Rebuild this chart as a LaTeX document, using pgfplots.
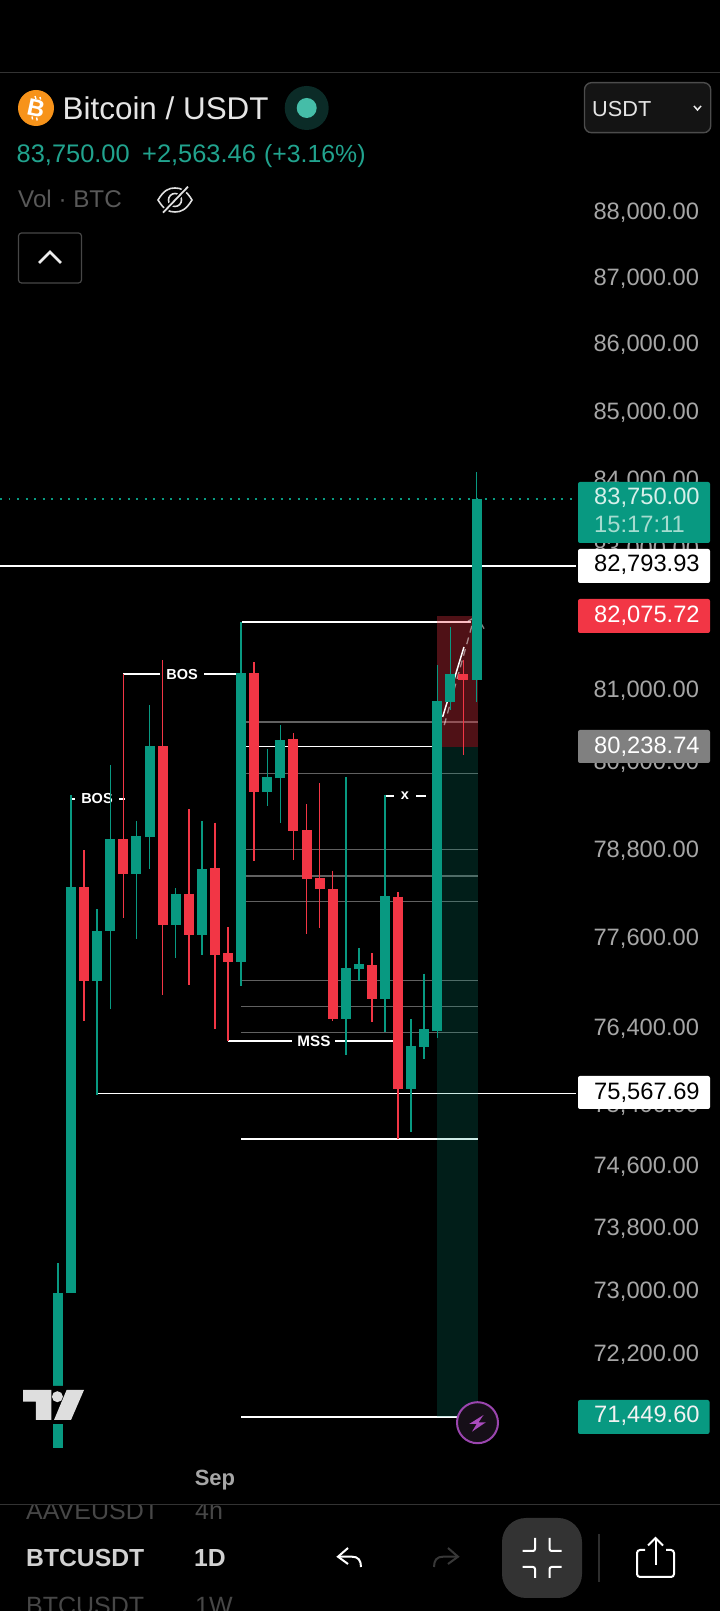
\documentclass[border=0pt]{standalone}
\usepackage{pgfplots}
\pgfplotsset{compat=1.18}
\usepackage{fontspec}
\setmainfont{Liberation Sans}
\definecolor{tvg}{HTML}{089981}
\definecolor{tvr}{HTML}{F23645}
\definecolor{tick}{HTML}{A6A6A6}
\newcommand{\fs}[1]{\fontsize{#1}{#1}\selectfont}
% candle: index, open, high, low, close
\newcommand{\gc}[5]{%
 \addplot[tvg,line width=.3pt,line cap=butt] coordinates {(#1,#3) (#1,#4)};
 \addplot[tvg,line width=2pt,line cap=butt] coordinates {(#1,#2) (#1,#5)};}
\newcommand{\rc}[5]{%
 \addplot[tvr,line width=.3pt,line cap=butt] coordinates {(#1,#3) (#1,#4)};
 \addplot[tvr,line width=2pt,line cap=butt] coordinates {(#1,#2) (#1,#5)};}
\begin{document}
\begin{tikzpicture}
\useasboundingbox (0,0) rectangle (720pt,1611pt);
\fill[black] (0,0) rectangle (720pt,1611pt);
\begin{scope}[transform canvas={scale=5}]
\begin{axis}[
  at={(0pt,-0.3pt)},anchor=south west,scale only axis,width=144pt,height=322.2pt,
  xmin=-4.434,xmax=50.612,ymode=log,ymin=69075,ymax=91305,
  axis line style={draw=none},tick style={draw=none},major tick length=0pt,
  ytick pos=right,yticklabel pos=right,
  ytick={88000,87000,86000,85000,84000,83000,81000,80000,78800,77600,76400,75400,74600,73800,73000,72200},
  yticklabels={88{,}000.00,87{,}000.00,86{,}000.00,85{,}000.00,84{,}000.00,83{,}000.00,81{,}000.00,80{,}000.00,78{,}800.00,77{,}600.00,76{,}400.00,75{,}400.00,74{,}600.00,73{,}800.00,73{,}000.00,72{,}200.00},
  yticklabel style={anchor=base east,xshift=-4pt,yshift=-1.1pt,inner sep=0pt,text=tick,font=\fs{4.74}},
  xtick={12},xticklabels={\textbf{Sep}},
  xticklabel style={anchor=center,inner sep=0pt,yshift=26.36pt,text=tick,font=\fs{4.4}},
  clip=true,
]
% horizontal levels
\addplot[white,line width=.34pt] coordinates {(-4.434,82793.93) (39.6,82793.93)};
\addplot[white,line width=.34pt] coordinates {(3,75567.69) (39.6,75567.69)};
\addplot[white,line width=.34pt] coordinates {(14,80238.74) (29,80238.74)};
\addplot[white,line width=.34pt] coordinates {(14.07,81985) (31.57,81985)};
\addplot[white,line width=.34pt] coordinates {(14,74966) (32.1,74966)};
\addplot[white,line width=.34pt] coordinates {(14,71449.6) (32.07,71449.6)};
\addplot[tvg,line width=.36pt,dash pattern=on .4pt off 1.3pt] coordinates {(-4.434,83750) (39.3,83750)};
% grey levels
\addplot[white,opacity=.38,line width=.27pt] coordinates {(14,80578) (32.1,80578)};
\addplot[white,opacity=.38,line width=.27pt] coordinates {(14,79883) (32.1,79883)};
\addplot[white,opacity=.38,line width=.27pt] coordinates {(14,78822) (32.1,78822)};
\addplot[white,opacity=.38,line width=.27pt] coordinates {(14,78472) (32.1,78472)};
\addplot[white,opacity=.38,line width=.27pt] coordinates {(14,78120) (32.1,78120)};
\addplot[white,opacity=.38,line width=.27pt] coordinates {(14,77059) (32.1,77059)};
\addplot[white,opacity=.38,line width=.27pt] coordinates {(14,76713) (32.1,76713)};
\addplot[white,opacity=.38,line width=.27pt] coordinates {(14,76368) (32.1,76368)};
% position zones
\addplot[draw=none,fill=tvr,fill opacity=.33] coordinates {(28.98,82075.72) (32.11,82075.72) (32.11,80238.74) (28.98,80238.74)} --cycle;
\addplot[draw=none,fill=tvg,fill opacity=.2] coordinates {(28.98,80238.74) (32.11,80238.74) (32.11,71449.6) (28.98,71449.6)} --cycle;
% structure labels
\addplot[white,line width=.34pt] coordinates {(1,79526) (5.12,79526)};
\node[fill=black,text=white,font=\fs{2.9}\bfseries,inner xsep=1.2pt,inner ysep=.2pt] at (axis cs:2.98,79526) {BOS};
\addplot[white,line width=.34pt] coordinates {(5,81250) (14,81250)};
\node[fill=black,text=white,font=\fs{2.9}\bfseries,inner xsep=1.3pt,inner ysep=.2pt] at (axis cs:9.48,81250) {BOS};
\addplot[white,line width=.34pt] coordinates {(13,76261) (26,76261)};
\node[fill=black,text=white,font=\fs{3.05}\bfseries,inner xsep=1pt,inner ysep=.2pt] at (axis cs:19.57,76261) {MSS};
\addplot[white,line width=.34pt] coordinates {(25,79571) (28.1,79571)};
\node[fill=black,text=white,font=\fs{2.9}\bfseries,inner xsep=1.3pt,inner ysep=.2pt] at (axis cs:26.53,79571) {x};
% projected path
\addplot[white,line width=.3pt] coordinates {(29.41,80652) (31.04,81635)};
\addplot[white,opacity=.5,line width=.26pt,dash pattern=on 1.4pt off 1pt] coordinates {(29.53,80536) (31.65,81942)};
\addplot[white,opacity=.5,line width=.26pt] coordinates {(31.35,82000) (32.03,82071) (32.57,81895)};
% candles
\gc{0}{71063}{73375}{71063}{73000}
\gc{1}{73000}{79567}{72995}{78323}
\rc{2}{78323}{78813}{76514}{77059}
\gc{3}{77059}{78026}{75554}{77728}
\gc{4}{77715}{79994}{76687}{78975}
\rc{5}{78975}{81250}{77890}{78499}
\gc{6}{78499}{79223}{77620}{79016}
\gc{7}{79003}{80816}{78566}{80243}
\rc{8}{80243}{81448}{76873}{77809}
\gc{9}{77809}{78310}{77364}{78228}
\rc{10}{78228}{79388}{76992}{77674}
\gc{11}{77674}{79223}{77404}{78566}
\rc{12}{78580}{79195}{76421}{77404}
\rc{13}{77417}{77782}{76261}{77311}
\gc{14}{77311}{81985}{76979}{81264}
\rc{15}{81264}{81418}{78675}{79622}
\gc{16}{79622}{80200}{79429}{79828}
\gc{17}{79814}{80536}{79195}{80326}
\rc{18}{80340}{80424}{78688}{79085}
\rc{19}{79099}{79457}{77688}{78431}
\rc{20}{78445}{79732}{77769}{78296}
\rc{21}{78296}{78539}{76514}{76554}
\gc{22}{76554}{79828}{76076}{77218}
\gc{23}{77205}{77497}{77059}{77285}
\rc{24}{77271}{77417}{76501}{76820}
\gc{25}{76820}{79581}{76368}{78201}
\rc{26}{78188}{78242}{74966}{75632}
\gc{27}{75632}{76540}{75070}{76195}
\gc{28}{76182}{77152}{76024}{76421}
\gc{29}{76394}{81376}{76301}{80872}
\gc{30}{80858}{81914}{80746}{81250}
\rc{31}{81250}{81448}{80118}{81166}
\gc{32}{81166}{84141}{80858}{83750}
\end{axis}
\end{scope}
% interface, in image pixel coordinates
\begin{scope}[x=1pt,y=-1pt,yshift=1611pt]
% top divider
\draw[color=black!80!white,line width=1.2pt] (0,72.7) -- (720,72.7);
% bitcoin icon
\fill[color={rgb,255:red,247;green,147;blue,26}] (36,108) circle (18pt);
\node[rotate=-12,text=white,font=\fs{24}\bfseries,inner sep=0pt] at (36,108) {B};
\draw[white,line width=1.4pt] (35,96) -- (36,99) (40,97) -- (40.6,99.5) (32,116.5) -- (32.6,119.5) (36.6,117.5) -- (37.2,120.5);
\node[anchor=base west,inner sep=0pt,text=black!10!white,font=\fs{31.4}] at (62.5,120) {Bitcoin / USDT};
\fill[color={rgb,255:red,11;green,43;blue,39}] (306.7,108) circle (22pt);
\fill[color={rgb,255:red,69;green,189;blue,168}] (306.7,108) circle (10pt);
% price header
\node[anchor=base west,inner sep=0pt,text=tvg!90!white,font=\fs{25.4}] at (16.5,163) {83,750.00};
\node[anchor=base west,inner sep=0pt,text=tvg!90!white,font=\fs{25.4}] at (142,163) {+2,563.46};
\node[anchor=base west,inner sep=0pt,text=tvg!90!white,font=\fs{24.8}] at (264,163) {(+3.16\%)};
\node[anchor=base west,inner sep=0pt,text=black!65!white,font=\fs{24.2}] at (18,207.5) {Vol · BTC};
% eye icon
\draw[black!12!white,line width=1.6pt] (158,200) .. controls (164,190) and (169,188) .. (175,188) .. controls (181,188) and (186,190) .. (192,200) .. controls (186,210) and (181,212) .. (175,212) .. controls (169,212) and (164,210) .. (158,200) -- cycle;
\draw[black!12!white,line width=1.6pt] (175,200) circle (6.5pt);
\draw[black,line width=5pt] (188,186.7) -- (163,212.7);
\draw[black!12!white,line width=1.8pt] (188,186.7) -- (163,212.7);
% collapse button
\draw[black!72!white,line width=1.2pt,rounded corners=3pt] (18.5,233) rectangle (81.5,283);
\draw[black!7!white,line width=2.6pt] (39,263) -- (50,252) -- (61,263);
% selector
\draw[black!70!white,fill=black!92!white,line width=1.4pt,rounded corners=7pt] (584.5,82.7) rectangle (710.7,132.7);
\node[anchor=base west,inner sep=0pt,text=black!10!white,font=\fs{21.7}] at (592,117) {USDT};
\draw[black!7!white,line width=1.5pt] (694,106) -- (697.5,110) -- (701,106);
% price tags
\fill[tvg,rounded corners=2pt] (578,482) rectangle (710,543);
\node[anchor=base west,inner sep=0pt,text={rgb,255:red,214;green,240;blue,234},font=\fs{23.7}] at (594,504.5) {83,750.00};
\node[anchor=base west,inner sep=0pt,text={rgb,255:red,165;green,220;blue,208},font=\fs{23.7}] at (594,533) {15:17:11};
\fill[white,rounded corners=2pt] (578,549) rectangle (710,583);
\node[anchor=base west,inner sep=0pt,text=black,font=\fs{23.7}] at (594,572) {82,793.93};
\fill[tvr,rounded corners=2pt] (578,599) rectangle (710,633);
\node[anchor=base west,inner sep=0pt,text=white,font=\fs{23.7}] at (594,622.5) {82,075.72};
\fill[color=black!50!white,rounded corners=2pt] (578,730) rectangle (710,763);
\node[anchor=base west,inner sep=0pt,text=white,font=\fs{23.7}] at (594,754) {80,238.74};
\fill[white,rounded corners=2pt] (578,1076) rectangle (710,1109);
\node[anchor=base west,inner sep=0pt,text=black,font=\fs{23.7}] at (594,1099.7) {75,567.69};
\fill[tvg,rounded corners=2pt] (578,1400) rectangle (709.5,1434);
\node[anchor=base west,inner sep=0pt,text=black!5!white,font=\fs{23.7}] at (594,1423) {71,449.60};
% TradingView mark
\fill[black] (20.6,1386) -- (89,1386) -- (74,1424) -- (20.6,1424) -- cycle;
\fill[black!13!white] (23,1390) -- (51.4,1390) -- (51.4,1420) -- (35.8,1420) -- (35.8,1401.7) -- (23,1401.7) -- cycle;
\fill[black!13!white] (57.4,1396.7) circle (5.5pt);
\fill[black!13!white] (66.6,1390) -- (84,1390) -- (71,1420) -- (54,1420) -- cycle;
% bolt badge
\draw[color={rgb,255:red,154;green,69;blue,174},fill={rgb,255:red,22;green,15;blue,24},line width=2pt] (477.5,1422.7) circle (20.5pt);
\fill[color={rgb,255:red,170;green,75;blue,190}] (483.5,1415) -- (469.2,1424) -- (476.6,1424) -- (472,1431.7) -- (485.8,1422.3) -- (478.6,1422.3) -- cycle;
% bottom bar
\draw[color=black!80!white,line width=1.2pt] (0,1504.7) -- (720,1504.7);
\begin{scope}
\clip (0,1505.4) rectangle (720,1611);
\node[anchor=base west,inner sep=0pt,text=black!72!white,font=\fs{25}] at (26,1520) {AAVEUSDT};
\node[anchor=base west,inner sep=0pt,text=black!72!white,font=\fs{25}] at (195,1520) {4h};
\node[anchor=base west,inner sep=0pt,text=black!72!white,font=\fs{25}] at (26,1615) {BTCUSDT};
\node[anchor=base west,inner sep=0pt,text=black!72!white,font=\fs{25}] at (195,1615) {1W};
\end{scope}
\node[anchor=base west,inner sep=0pt,text=black!18!white,font=\fs{24.7}\bfseries] at (26,1567) {BTCUSDT};
\node[anchor=base west,inner sep=0pt,text=black!18!white,font=\fs{24.7}\bfseries] at (194,1567) {1D};
% undo
\draw[white,line width=2pt] (361,1567) .. controls (361,1560) and (358,1556.7) .. (352,1556.7) -- (338,1556.7);
\draw[white,line width=2pt] (348,1548) -- (338,1556.7) -- (348,1564);
% redo
\draw[black!78!white,line width=2pt] (434,1567) .. controls (434,1560) and (437,1556.7) .. (443,1556.7) -- (458,1556.7);
\draw[black!78!white,line width=2pt] (448,1548) -- (458,1556.7) -- (448,1564);
% exit fullscreen
\fill[color=black!80!white,rounded corners=24pt] (502,1518) rectangle (582,1598);
\draw[white,line width=2pt,rounded corners=2pt] (535,1538) -- (535,1551) -- (522.5,1551);
\draw[white,line width=2pt,rounded corners=2pt] (549.6,1538) -- (549.6,1551) -- (561.5,1551);
\draw[white,line width=2pt,rounded corners=2pt] (522.5,1567) -- (535,1567) -- (535,1578);
\draw[white,line width=2pt,rounded corners=2pt] (561.5,1567) -- (549.6,1567) -- (549.6,1578);
\draw[color=black!82!white,line width=1.2pt] (599,1534) -- (599,1582);
% share
\draw[white,line width=2pt,rounded corners=3pt] (645,1550) -- (637,1550) -- (637,1577) -- (674,1577) -- (674,1550) -- (666,1550);
\draw[white,line width=2pt] (655.5,1565) -- (655.5,1538);
\draw[white,line width=2pt] (648,1545.5) -- (655.5,1538) -- (663,1545.5);
\end{scope}
\end{tikzpicture}
\end{document}
